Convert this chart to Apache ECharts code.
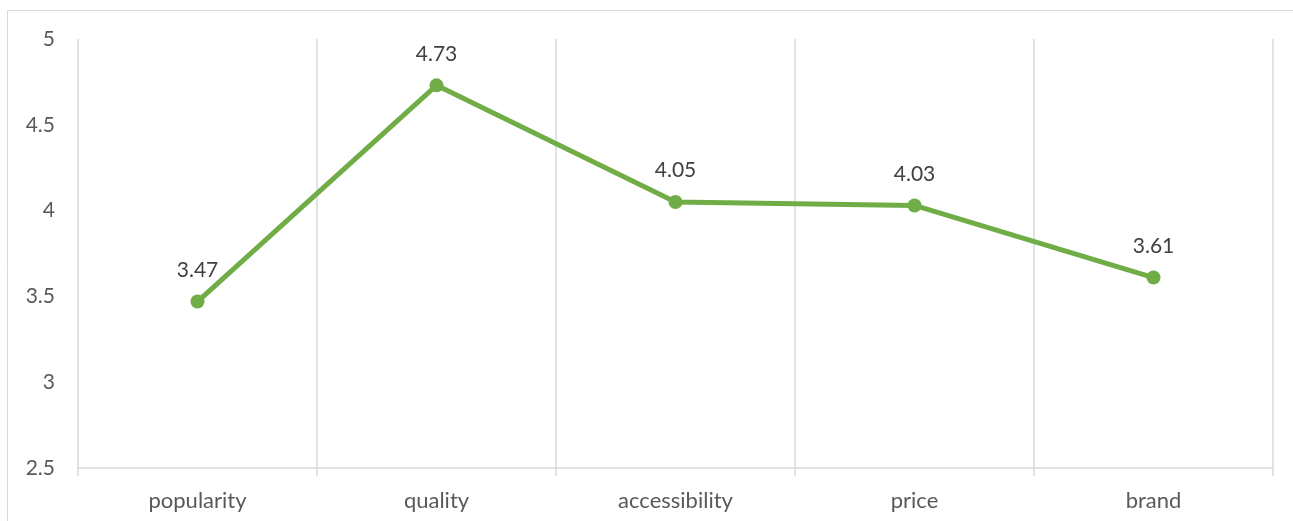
<!DOCTYPE html>
<html>
<head>
<meta charset="utf-8">
<script src="https://cdn.jsdelivr.net/npm/echarts@6/dist/echarts.min.js"></script>
<style>
  html, body { margin: 0; padding: 0; background: #fff; }
  #chart { width: 1293px; height: 521px; }
</style>
</head>
<body>
<div id="chart"></div>
<script>
// Average rating per attribute
const categories = ['popularity', 'quality', 'accessibility', 'price', 'brand'];
const scores = [3.47, 4.73, 4.05, 4.03, 3.61];
const yTicks = { min: 2.5, max: 5, step: 0.5 };

const FONT = 'Lato, "Liberation Sans", sans-serif';
const GRID = '#d9d9d9';

const chart = echarts.init(document.getElementById('chart'), null, { renderer: 'canvas' });
chart.setOption({
  animation: false,
  backgroundColor: '#ffffff',
  graphic: [{
    type: 'rect',
    shape: { x: 7.5, y: 10.5, width: 1300, height: 530 },
    style: { fill: 'none', stroke: GRID, lineWidth: 1 },
    silent: true
  }],
  grid: { left: 78, right: 20, top: 39, bottom: 53 },
  xAxis: {
    type: 'category',
    data: categories,
    boundaryGap: true,
    axisLine: { show: true, lineStyle: { color: GRID, width: 1.5 } },
    axisTick: { show: true, length: 8, lineStyle: { color: GRID, width: 1.5 } },
    splitLine: { show: true, lineStyle: { color: GRID, width: 1.5 } },
    axisLabel: { color: '#595959', fontSize: 22, fontFamily: FONT, margin: 22 }
  },
  yAxis: {
    type: 'value',
    min: yTicks.min,
    max: yTicks.max,
    interval: yTicks.step,
    axisLine: { show: false },
    axisTick: { show: false },
    splitLine: { show: false },
    axisLabel: { color: '#595959', fontSize: 21, fontFamily: FONT, margin: 23 }
  },
  series: [{
    type: 'line',
    data: scores,
    symbol: 'circle',
    symbolSize: 14,
    lineStyle: { color: '#70ad47', width: 5 },
    itemStyle: { color: '#70ad47' },
    label: {
      show: true,
      position: 'top',
      distance: 14,
      color: '#404040',
      fontSize: 21,
      fontFamily: FONT
    }
  }]
});
</script>
</body>
</html>
